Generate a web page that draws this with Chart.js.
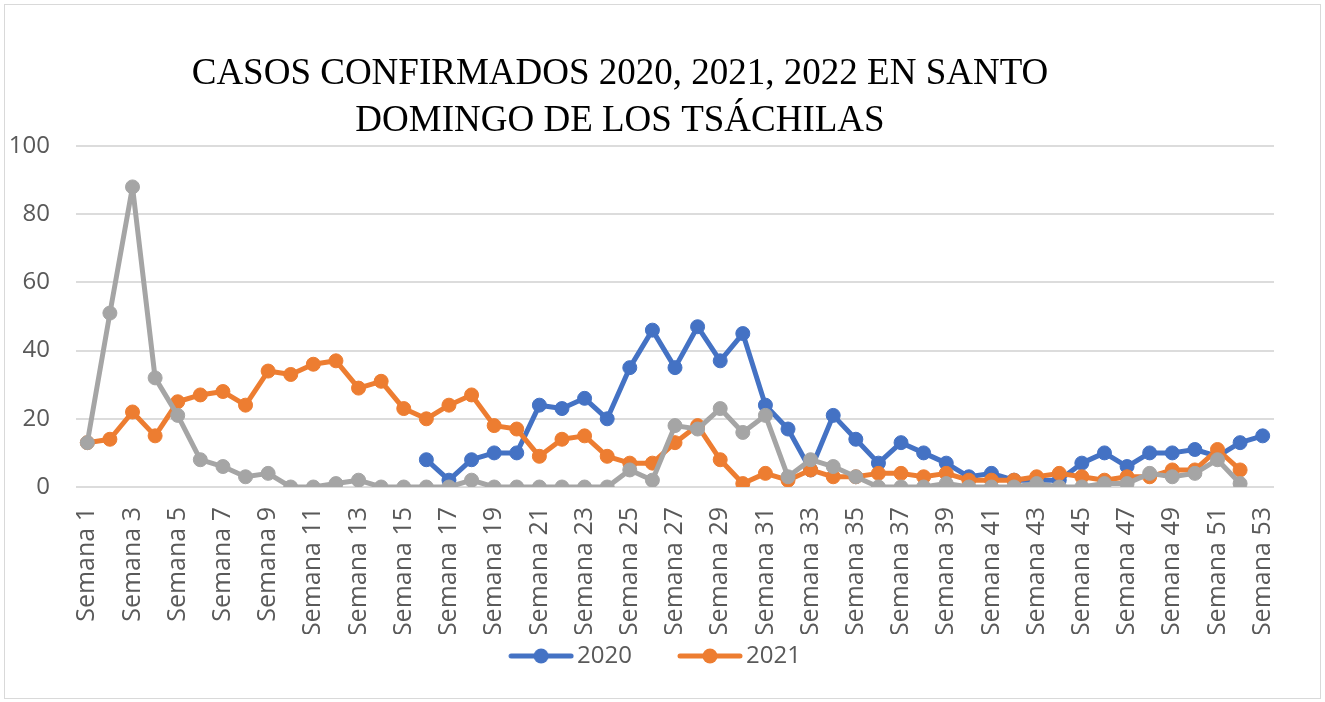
<!DOCTYPE html>
<html>
<head>
<meta charset="utf-8">
<script src="https://cdn.jsdelivr.net/npm/chart.js@4.4.1/dist/chart.umd.min.js"></script>
<style>
  html, body { margin: 0; padding: 0; background: #fff; }
  canvas { display: block; }
</style>
</head>
<body>
<canvas id="myChart" width="1325" height="702"></canvas>
<script>
const semanas = ['Semana 1','Semana 2','Semana 3','Semana 4','Semana 5','Semana 6','Semana 7','Semana 8','Semana 9','Semana 10',
                 'Semana 11','Semana 12','Semana 13','Semana 14','Semana 15','Semana 16','Semana 17','Semana 18','Semana 19','Semana 20',
                 'Semana 21','Semana 22','Semana 23','Semana 24','Semana 25','Semana 26','Semana 27','Semana 28','Semana 29','Semana 30',
                 'Semana 31','Semana 32','Semana 33','Semana 34','Semana 35','Semana 36','Semana 37','Semana 38','Semana 39','Semana 40',
                 'Semana 41','Semana 42','Semana 43','Semana 44','Semana 45','Semana 46','Semana 47','Semana 48','Semana 49','Semana 50',
                 'Semana 51','Semana 52','Semana 53'];

// 2020 starts at semana 16
const casos2020 = [null, null, null, null, null, null, null, null, null, null,
                   null, null, null, null, null, 8, 2, 8, 10, 10,
                   24, 23, 26, 20, 35, 46, 35, 47, 37, 45,
                   24, 17, 5, 21, 14, 7, 13, 10, 7, 3,
                   4, 2, 2, 2, 7, 10, 6, 10, 10, 11,
                   9, 13, 15];

const casos2021 = [13, 14, 22, 15, 25, 27, 28, 24, 34, 33,
                   36, 37, 29, 31, 23, 20, 24, 27, 18, 17,
                   9, 14, 15, 9, 7, 7, 13, 18, 8, 1,
                   4, 2, 5, 3, 3, 4, 4, 3, 4, 2,
                   2, 2, 3, 4, 3, 2, 3, 3, 5, 5,
                   11, 5, null];

const casos2022 = [13, 51, 88, 32, 21, 8, 6, 3, 4, 0,
                   0, 1, 2, 0, 0, 0, 0, 2, 0, 0,
                   0, 0, 0, 0, 5, 2, 18, 17, 23, 16,
                   21, 3, 8, 6, 3, 0, 0, 0, 1, 0,
                   0, 0, 1, 0, 0, 1, 1, 4, 3, 4,
                   8, 1, null];

const yTicks = [0, 20, 40, 60, 80, 100];
const tituloLineas = ['CASOS CONFIRMADOS 2020, 2021, 2022 EN SANTO', 'DOMINGO DE LOS TSÁCHILAS'];

const azul = '#4472C4';
const naranja = '#ED7D31';
const gris = '#A5A5A5';

// legend picture: blank lead-in, then line + dot
const LEAD = 35;
function legendIcon(color) {
  const c = document.createElement('canvas');
  c.width = LEAD + 75;
  c.height = 18;
  const g = c.getContext('2d');
  const x0 = LEAD + 9;
  g.strokeStyle = color;
  g.lineWidth = 5;
  g.lineCap = 'round';
  g.beginPath();
  g.moveTo(x0 + 3, 9);
  g.lineTo(x0 + 63, 9);
  g.stroke();
  g.fillStyle = color;
  g.beginPath();
  g.arc(x0 + 33, 9, 7.5, 0, Math.PI * 2);
  g.fill();
  return c;
}

const titlePlugin = {
  id: 'titlePlugin',
  beforeDraw(chart) {
    const ctx = chart.ctx;
    ctx.save();
    ctx.strokeStyle = '#d9d9d9';
    ctx.lineWidth = 1;
    ctx.strokeRect(4.5, 4.5, 1316, 694);
    ctx.restore();
  },
  afterDraw(chart) {
    const ctx = chart.ctx;
    ctx.save();
    ctx.font = '37px "Liberation Serif", "Times New Roman", serif';
    ctx.fillStyle = '#000';
    ctx.textAlign = 'center';
    ctx.textBaseline = 'alphabetic';
    ctx.fillText(tituloLineas[0], 620, 84);
    ctx.fillText(tituloLineas[1], 620, 131);
    ctx.restore();
  }
};

function serie(label, data, color, order) {
  return {
    label: label,
    data: data,
    borderColor: color,
    backgroundColor: color,
    borderWidth: 5,
    borderJoinStyle: 'round',
    borderCapStyle: 'round',
    pointRadius: 7,
    pointHoverRadius: 7,
    pointBackgroundColor: color,
    pointBorderColor: color,
    pointBorderWidth: 1,
    tension: 0,
    order: order
  };
}

const ctx = document.getElementById('myChart');

const myChart = new Chart(ctx, {
  type: 'line',
  data: {
    labels: semanas,
    datasets: [
      serie('2020', casos2020, azul, 3),
      serie('2021', casos2021, naranja, 2),
      serie('2022', casos2022, gris, 1)
    ]
  },
  options: {
    responsive: false,
    animation: false,
    layout: { padding: { top: 146, left: 0, right: 51, bottom: 24 } },
    plugins: {
      title: { display: false },
      tooltip: { enabled: false },
      legend: {
        position: 'bottom',
        labels: {
          usePointStyle: true,
          pointStyleWidth: LEAD + 57,
          padding: 10,
          color: '#595959',
          font: { family: '"Open Sans", sans-serif', size: 24 },
          filter: (item) => item.datasetIndex !== 2,
          sort: (a, b) => a.datasetIndex - b.datasetIndex,
          generateLabels(chart) {
            const items = Chart.defaults.plugins.legend.labels.generateLabels(chart);
            items.forEach(it => {
              it.pointStyle = legendIcon(chart.data.datasets[it.datasetIndex].borderColor);
            });
            return items;
          }
        }
      }
    },
    scales: {
      x: {
        offset: true,
        grid: { display: false, drawTicks: false },
        border: { display: false },
        afterFit(scale) { scale.height = 147; },
        ticks: {
          autoSkip: false,
          minRotation: 90,
          maxRotation: 90,
          padding: 20,
          color: '#595959',
          font: { family: '"Open Sans", sans-serif', size: 25 },
          callback(value, index) {
            return index % 2 === 0 ? this.getLabelForValue(value) : '';
          }
        }
      },
      y: {
        min: 0,
        max: 100,
        afterFit(scale) { scale.width = 76; },
        afterBuildTicks(scale) { scale.ticks = yTicks.map(v => ({ value: v })); },
        grid: { color: '#dcdcdc', lineWidth: 2, drawTicks: false },
        border: { display: false },
        ticks: {
          padding: 26,
          color: '#595959',
          font: { family: '"Open Sans", sans-serif', size: 24 }
        }
      }
    }
  },
  plugins: [titlePlugin]
});
</script>
</body>
</html>
